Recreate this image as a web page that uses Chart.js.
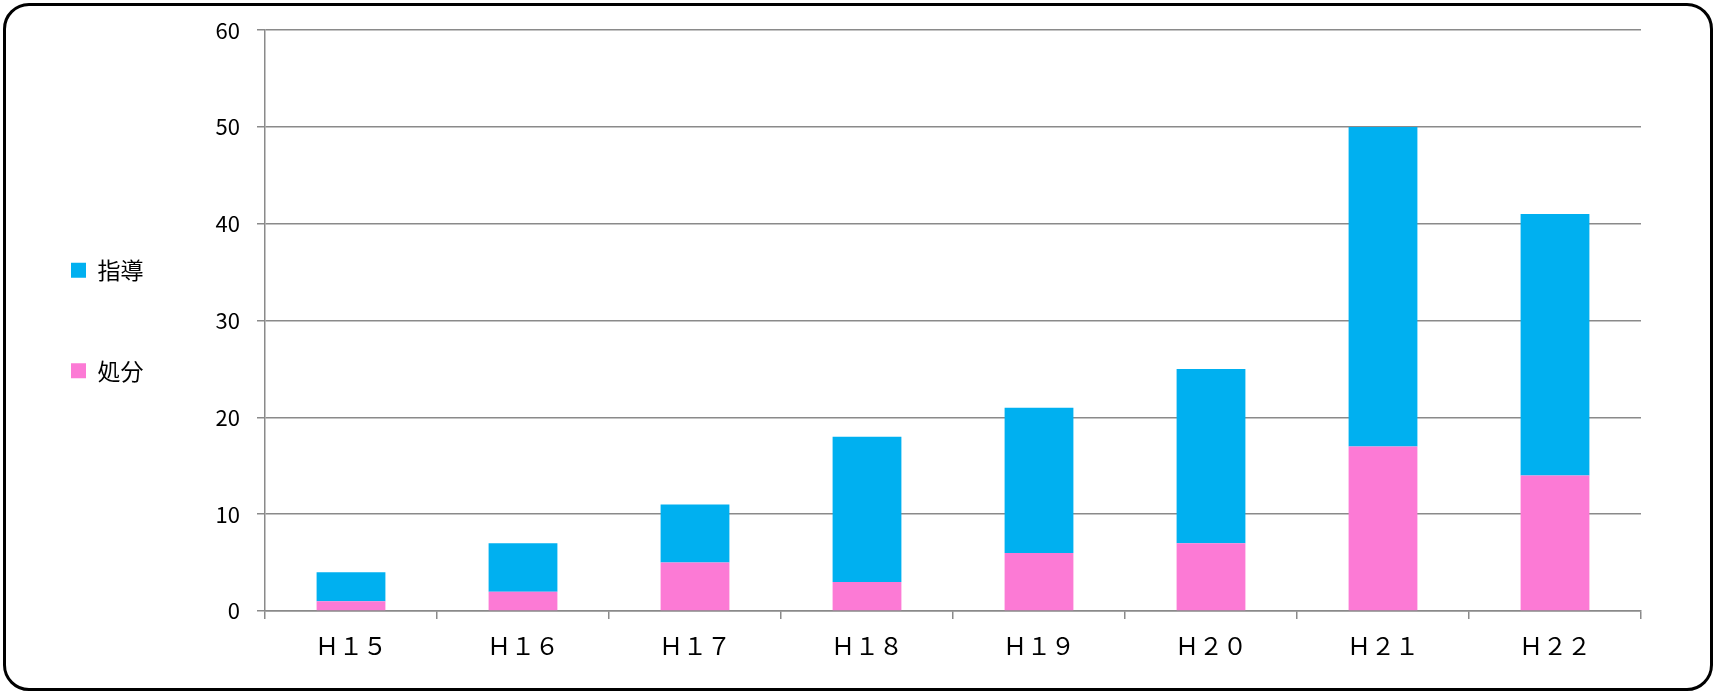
<!DOCTYPE html>
<html lang="ja">
<head>
<meta charset="utf-8">
<title>指導・処分 件数</title>
<script src="https://cdn.jsdelivr.net/npm/chart.js@4/dist/chart.umd.min.js"></script>
<style>
    html, body { margin: 0; padding: 0; background: #fff; }
    body { width: 1716px; height: 692px; position: relative; overflow: hidden; }
    #grafico { position: absolute; left: 0; top: 0; }
    .moldura {
        position: absolute; left: 3px; top: 3px; width: 1710px; height: 688px;
        box-sizing: border-box; border: 3px solid #000; border-radius: 26px;
        pointer-events: none;
    }
</style>
</head>
<body>
<canvas id="grafico" width="1716" height="692"></canvas>
<div class="moldura"></div>
<script>
// Dados do gráfico
const categorias = ['Ｈ１５', 'Ｈ１６', 'Ｈ１７', 'Ｈ１８', 'Ｈ１９', 'Ｈ２０', 'Ｈ２１', 'Ｈ２２'];
const shobun = [1, 2, 5, 3, 6, 7, 17, 14];      // 処分
const shido = [3, 5, 6, 15, 15, 18, 33, 27];    // 指導
const eixoY = { min: 0, max: 60, passo: 10 };

const corGrade = '#8a8a8a';
const fonte = '"Noto Sans CJK JP", "Noto Sans", sans-serif';

const ctx = document.getElementById('grafico').getContext('2d');

new Chart(ctx, {
    type: 'bar',
    data: {
        labels: categorias,
        datasets: [
            { label: '処分', data: shobun, backgroundColor: '#FC7AD5' },
            { label: '指導', data: shido, backgroundColor: '#00B0F0' }
        ]
    },
    options: {
        responsive: false,
        devicePixelRatio: 1,
        animation: false,
        layout: { padding: { left: -6.5, top: 28, right: 75, bottom: 2 } },
        datasets: { bar: { barPercentage: 0.4, categoryPercentage: 1 } },
        plugins: {
            tooltip: { enabled: false },
            legend: {
                position: 'left',
                fullSize: false,
                reverse: true,
                labels: {
                    boxWidth: 15,
                    boxHeight: 15,
                    padding: 77.5,
                    color: '#000',
                    font: { family: fonte, size: 23 }
                }
            }
        },
        scales: {
            x: {
                stacked: true,
                // base do gráfico em y = 611
                afterFit: (scale) => { scale.height = 692 - 2 - 611; },
                grid: { drawOnChartArea: false, color: corGrade, lineWidth: 1.5, tickLength: 8 },
                border: { color: corGrade, width: 1.5 },
                ticks: { color: '#000', padding: 12, font: { family: fonte, size: 24 } }
            },
            y: {
                stacked: true,
                min: eixoY.min,
                max: eixoY.max,
                afterFit: (scale) => {
                    // coloca a borda esquerda da área do gráfico em x = 265
                    scale.width = 265 + 6.5 - scale.chart.legend.width;
                },
                grid: { color: corGrade, lineWidth: 1.5, tickLength: 8 },
                border: { color: corGrade, width: 1.5 },
                ticks: { stepSize: eixoY.passo, color: '#000', padding: 17, font: { family: fonte, size: 22 } }
            }
        }
    }
});
</script>
</body>
</html>
